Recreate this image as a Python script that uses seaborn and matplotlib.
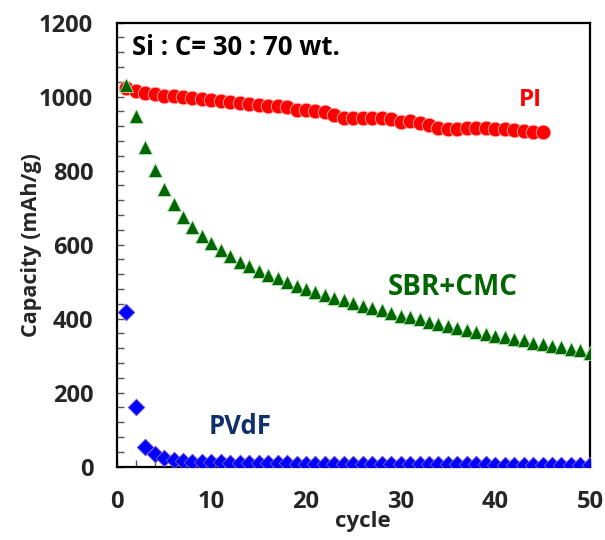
import numpy as np
import pandas as pd
import matplotlib
matplotlib.use("Agg")
import matplotlib.pyplot as plt
from matplotlib.ticker import MultipleLocator
import seaborn as sns

# ---- data ----
pi_cycle = list(range(1, 46))
pi_capacity = [1024, 1014, 1009, 1006, 1003, 1001, 999, 996, 995, 992,
               989, 986, 983, 980, 978, 976, 974, 972, 965, 963,
               962, 958, 950, 943, 941, 941, 943, 942, 940, 931,
               934, 928, 924, 915, 913, 913, 915, 915, 915, 913,
               912, 910, 907, 904, 904]

sbr_cycle = list(range(1, 51))
sbr_capacity = [1032, 949, 865, 802, 750, 709, 676, 647, 624, 604,
                586, 568, 554, 541, 529, 518, 509, 500, 489, 480,
                473, 464, 455, 449, 442, 435, 428, 422, 415, 408,
                403, 398, 392, 386, 380, 374, 369, 363, 358, 353,
                350, 345, 341, 335, 332, 327, 323, 318, 314, 306]

pvdf_cycle = list(range(1, 51))
pvdf_capacity = [418, 161, 52, 34, 24, 18, 15, 13, 12, 11,
                 11, 10, 10, 10, 9, 9, 9, 9, 8, 8,
                 8, 8, 8, 8, 7, 7, 7, 7, 7, 7,
                 7, 6, 6, 6, 6, 6, 6, 6, 6, 5,
                 5, 5, 5, 5, 5, 5, 5, 5, 5, 5]

series_labels = ["PI", "SBR+CMC", "PVdF"]
title_text = "Si : C= 30 : 70 wt."
x_label = "cycle"
y_label = "Capacity (mAh/g)"

sns.set_style("ticks")
plt.rcParams['font.family'] = ['Open Sans', 'DejaVu Sans']

df_pi = pd.DataFrame({"cycle": pi_cycle, "capacity": pi_capacity})
df_sbr = pd.DataFrame({"cycle": sbr_cycle, "capacity": sbr_capacity})
df_pvdf = pd.DataFrame({"cycle": pvdf_cycle, "capacity": pvdf_capacity})

fig = plt.figure(figsize=(6.05, 5.40), dpi=100)
ax = fig.add_axes([0.193, 0.136, 0.782, 0.822])

sns.scatterplot(data=df_pvdf, x="cycle", y="capacity", ax=ax, marker="D",
                color="#0000FF", edgecolor="#7F5FBF", linewidth=0.6, s=72, zorder=3)
sns.scatterplot(data=df_sbr, x="cycle", y="capacity", ax=ax, marker="^",
                color="#006600", edgecolor="#B5E3B5", linewidth=0.6, s=100, zorder=4)
sns.scatterplot(data=df_pi, x="cycle", y="capacity", ax=ax, marker="o",
                color="#FF0000", edgecolor="#FFB0B0", linewidth=0.6, s=110, zorder=2)

ax.set_xlim(0, 50)
ax.set_ylim(0, 1200)
ax.xaxis.set_major_locator(MultipleLocator(10))
ax.xaxis.set_minor_locator(MultipleLocator(2))
ax.yaxis.set_major_locator(MultipleLocator(200))
ax.yaxis.set_minor_locator(MultipleLocator(40))
ax.tick_params(axis="both", which="both", direction="in", length=5, width=1.0,
               color="#555555", top=False, right=False)
ax.tick_params(axis="y", which="major", labelsize=17, pad=17)
ax.tick_params(axis="x", which="major", labelsize=17, pad=17)
for lab in ax.get_xticklabels() + ax.get_yticklabels():
    lab.set_fontweight("bold")
for sp in ax.spines.values():
    sp.set_linewidth(1.6)
    sp.set_color("black")

ax.set_xlabel(x_label, fontsize=16, fontweight="bold")
ax.set_ylabel(y_label, fontsize=15.5, fontweight="bold")
ax.xaxis.set_label_coords(0.52, -0.1)
ax.yaxis.set_label_coords(-0.158, 0.5)

ax.text(1.6, 1134, title_text, fontsize=18.5, fontweight="bold", color="black",
        ha="left", va="center")
ax.text(43.7, 990, series_labels[0], fontsize=17.5, fontweight="bold", color="#FF0000",
        ha="center", va="center")
ax.text(35.5, 483, series_labels[1], fontsize=20, fontweight="bold", color="#006600",
        ha="center", va="center")
ax.text(13.0, 108, series_labels[2], fontsize=18.5, fontweight="bold", color="#10306A",
        ha="center", va="center")

fig.savefig("out.png", dpi=100)
